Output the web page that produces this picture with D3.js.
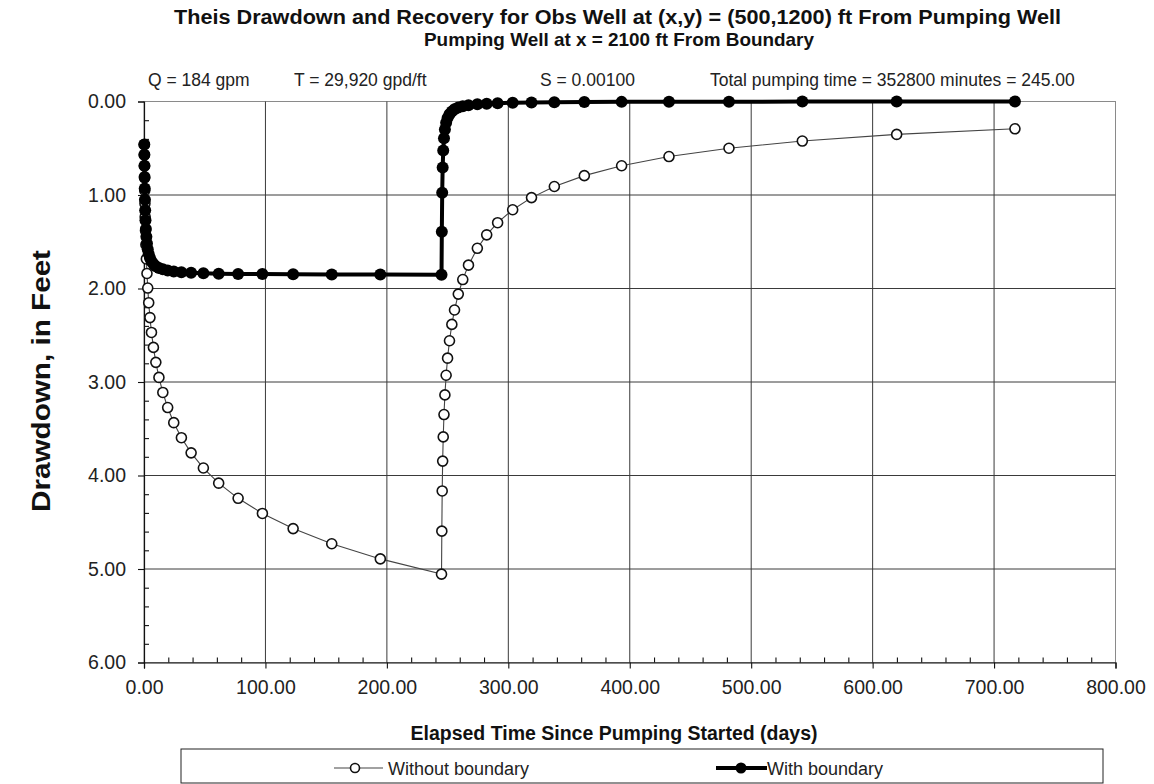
<!DOCTYPE html>
<html>
<head>
<meta charset="utf-8">
<script src="https://cdn.jsdelivr.net/npm/d3@7/dist/d3.min.js"></script>
<style>
  html, body { margin: 0; padding: 0; background: #ffffff; }
  svg { display: block; font-family: "Liberation Sans", Arial, Helvetica, sans-serif; }
</style>
</head>
<body>
<svg id="chart" width="1154" height="784"></svg>
<script>
// ---- Data ----
// Elapsed time (days): pumping phase then recovery phase (pumping stops at 245 days)
const pumpTimes = [0.245, 0.308, 0.388, 0.489, 0.615, 0.775, 0.975, 1.23, 1.55, 1.95,
  2.45, 3.08, 3.88, 4.89, 6.15, 7.75, 9.75, 12.3, 15.5, 19.5,
  24.5, 30.8, 38.8, 48.9, 61.5, 77.5, 97.5, 122.8, 154.6, 194.6, 245.0];
const recoveryTimes = [245.25, 245.56, 245.94, 246.41, 247.03, 247.78, 248.8, 249.98, 251.56,
  253.5, 255.7, 258.8, 262.5, 267.2, 274.5, 282.2, 291.2, 303.6, 319.1, 337.9,
  362.6, 393.3, 432.3, 481.7, 542.1, 619.8, 717.2];

// Drawdown (ft) without boundary
const withoutPump = [0.46, 0.571, 0.690, 0.818, 0.951, 1.091, 1.234, 1.381, 1.532, 1.684,
  1.839, 1.995, 2.152, 2.311, 2.470, 2.630, 2.790, 2.951, 3.112, 3.273,
  3.435, 3.596, 3.758, 3.920, 4.082, 4.244, 4.406, 4.568, 4.730, 4.892, 5.055];
const withoutRecovery = [4.595, 4.165, 3.846, 3.587, 3.348, 3.138, 2.928, 2.745, 2.559,
  2.384, 2.230, 2.060, 1.904, 1.750, 1.570, 1.426, 1.296, 1.158, 1.028, 0.909,
  0.793, 0.687, 0.589, 0.500, 0.423, 0.352, 0.292];

// Drawdown (ft) with boundary
const withPump = [0.460, 0.569, 0.687, 0.808, 0.931, 1.051, 1.164, 1.269, 1.363, 1.447,
  1.519, 1.580, 1.631, 1.674, 1.709, 1.738, 1.761, 1.780, 1.795, 1.807,
  1.817, 1.825, 1.831, 1.836, 1.841, 1.844, 1.846, 1.848, 1.850, 1.851, 1.852];
const withRecovery = [1.392, 0.976, 0.707, 0.525, 0.392, 0.300, 0.227, 0.176, 0.136,
  0.106, 0.084, 0.065, 0.051, 0.040, 0.030, 0.023, 0.018, 0.013, 0.010, 0.008,
  0.006, 0.004, 0.003, 0.002, 0.001, 0.001, 0.000];

const xTicks = [0, 100, 200, 300, 400, 500, 600, 700, 800];
const yTicks = [0, 1, 2, 3, 4, 5, 6];
const seriesNames = ["Without boundary", "With boundary"];
const titleLines = [
  "Theis Drawdown and Recovery for Obs Well at (x,y) = (500,1200) ft From Pumping Well",
  "Pumping Well at x = 2100 ft From Boundary"
];
const annotations = ["Q = 184 gpm", "T = 29,920 gpd/ft", "S = 0.00100",
  "Total pumping time = 352800 minutes = 245.00"];
const xTitle = "Elapsed Time Since Pumping Started (days)";
const yTitle = "Drawdown, in Feet";

// ---- Build series ----
const times = pumpTimes.concat(recoveryTimes);
const allWithout = withoutPump.concat(withoutRecovery);
const allWith = withPump.concat(withRecovery);
const seriesWithout = times.map((t, i) => ({ t, s: allWithout[i] }));
const seriesWith = times.map((t, i) => ({ t, s: allWith[i] }));

// ---- Layout ----
const svg = d3.select("#chart");
svg.append("rect").attr("width", 1154).attr("height", 784).attr("fill", "#fff");
const L = 144, R = 1115.5, T = 101.5, B = 662.5;
const x = d3.scaleLinear().domain([0, 800]).range([L, R]);
const y = d3.scaleLinear().domain([0, 6]).range([T, B]);

// Plot border (top/right light)
svg.append("rect").attr("x", L).attr("y", T).attr("width", R - L).attr("height", B - T)
  .attr("fill", "none").attr("stroke", "#8a8a8a").attr("stroke-width", 1);

// Gridlines
const grid = svg.append("g");
grid.selectAll("line.v").data(xTicks.filter(d => d > 0 && d < 800)).join("line")
  .attr("x1", d => x(d)).attr("x2", d => x(d)).attr("y1", T).attr("y2", B)
  .attr("stroke", "#3a3a3a").attr("stroke-width", 1);
grid.selectAll("line.h").data(yTicks.filter(d => d > 0 && d < 6)).join("line")
  .attr("x1", L).attr("x2", R).attr("y1", d => y(d)).attr("y2", d => y(d))
  .attr("stroke", "#3a3a3a").attr("stroke-width", 1);

// Axes
const fmt = d3.format(".2f");
const xAxis = svg.append("g").attr("transform", `translate(0,${B})`)
  .call(d3.axisBottom(x).tickValues(xTicks).tickFormat(fmt).tickSize(6).tickPadding(12));
const xMinor = svg.append("g").attr("transform", `translate(0,${B})`)
  .call(d3.axisTop(x).tickValues(d3.range(0, 801, 20).filter(d => d % 100 !== 0)).tickFormat("").tickSize(5));
const yAxis = svg.append("g").attr("transform", `translate(${L},0)`)
  .call(d3.axisLeft(y).tickValues(yTicks).tickFormat(fmt).tickSize(6).tickPadding(12));
const yMinor = svg.append("g").attr("transform", `translate(${L},0)`)
  .call(d3.axisRight(y).tickValues(d3.range(0, 6.01, 0.2).filter(d => Math.abs(d - Math.round(d)) > 0.01)).tickFormat("").tickSize(5));
[xAxis, xMinor, yAxis, yMinor].forEach(g => {
  g.selectAll("path.domain").attr("stroke", "#111").attr("stroke-width", 1.2);
  g.selectAll(".tick line").attr("stroke", "#111").attr("stroke-width", 1.1);
});
xMinor.select("path.domain").remove();
yMinor.select("path.domain").remove();
xAxis.selectAll("text").attr("font-size", 19.5).attr("fill", "#222")
  .attr("font-family", "'Liberation Sans', Arial, sans-serif");
yAxis.selectAll("text").attr("font-size", 19.5).attr("fill", "#222")
  .attr("font-family", "'Liberation Sans', Arial, sans-serif");

// Series lines
const line = d3.line().x(d => x(d.t)).y(d => y(d.s));
svg.append("path").datum(seriesWithout).attr("d", line)
  .attr("fill", "none").attr("stroke", "#444").attr("stroke-width", 1.1);
svg.append("g").selectAll("circle").data(seriesWithout).join("circle")
  .attr("cx", d => x(d.t)).attr("cy", d => y(d.s)).attr("r", 5)
  .attr("fill", "#fff").attr("stroke", "#111").attr("stroke-width", 1.6);

svg.append("path").datum(seriesWith).attr("d", line)
  .attr("fill", "none").attr("stroke", "#000").attr("stroke-width", 4);
svg.append("g").selectAll("circle").data(seriesWith).join("circle")
  .attr("cx", d => x(d.t)).attr("cy", d => y(d.s)).attr("r", 6)
  .attr("fill", "#000");

// Titles
svg.append("text").attr("x", 617.5).attr("y", 24).attr("text-anchor", "middle")
  .attr("font-weight", "bold").attr("font-size", 20).attr("fill", "#111")
  .attr("textLength", 887).attr("lengthAdjust", "spacingAndGlyphs").text(titleLines[0]);
svg.append("text").attr("x", 619).attr("y", 46).attr("text-anchor", "middle")
  .attr("font-weight", "bold").attr("font-size", 19).attr("fill", "#111")
  .attr("textLength", 390).attr("lengthAdjust", "spacingAndGlyphs").text(titleLines[1]);

// Annotations
const annX = [148, 294, 540, 710];
svg.append("clipPath").attr("id", "qclip").append("rect")
  .attr("x", 140).attr("y", 60).attr("width", 114).attr("height", 35);
svg.selectAll("text.ann").data(annotations).join("text")
  .attr("class", "ann")
  .attr("x", (d, i) => annX[i]).attr("y", 86)
  .attr("font-size", 17.5).attr("fill", "#222")
  .attr("clip-path", (d, i) => i === 0 ? "url(#qclip)" : null)
  .text(d => d);

// Axis titles
svg.append("text").attr("x", 614).attr("y", 740).attr("text-anchor", "middle")
  .attr("font-weight", "bold").attr("font-size", 19.5).attr("fill", "#111").text(xTitle);
svg.append("text").attr("transform", "translate(50,381) rotate(-90)").attr("text-anchor", "middle")
  .attr("font-weight", "bold").attr("font-size", 26).attr("fill", "#111")
  .attr("textLength", 262).attr("lengthAdjust", "spacingAndGlyphs").text(yTitle);

// Legend
const lg = svg.append("g");
lg.append("rect").attr("x", 181).attr("y", 749).attr("width", 922).attr("height", 34)
  .attr("fill", "#fff").attr("stroke", "#222").attr("stroke-width", 1);
const ly = 768;
lg.append("line").attr("x1", 334).attr("x2", 383).attr("y1", ly).attr("y2", ly)
  .attr("stroke", "#444").attr("stroke-width", 1.1);
lg.append("circle").attr("cx", 355).attr("cy", ly).attr("r", 4.5)
  .attr("fill", "#fff").attr("stroke", "#111").attr("stroke-width", 1.6);
lg.append("text").attr("x", 388).attr("y", ly + 6.5).attr("font-size", 18).attr("fill", "#222").text(seriesNames[0]);
lg.append("line").attr("x1", 716).attr("x2", 767).attr("y1", ly).attr("y2", ly)
  .attr("stroke", "#000").attr("stroke-width", 4);
lg.append("circle").attr("cx", 741).attr("cy", ly).attr("r", 5.5).attr("fill", "#000");
lg.append("text").attr("x", 767).attr("y", ly + 6.5).attr("font-size", 18).attr("fill", "#222").text(seriesNames[1]);
</script>
</body>
</html>
